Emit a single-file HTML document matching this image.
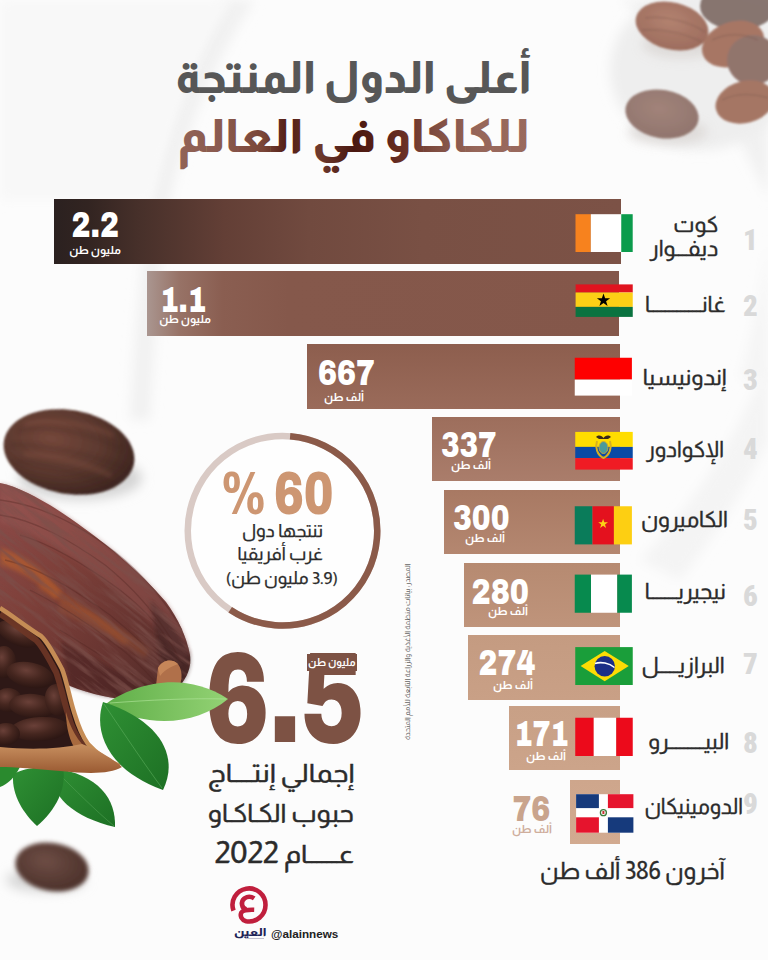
<!DOCTYPE html>
<html lang="ar"><head><meta charset="utf-8">
<style>
*{margin:0;padding:0;box-sizing:border-box}
html,body{width:768px;height:960px;overflow:hidden;background:#f7f7f7}
body{position:relative;font-family:"Almarai","Tajawal","DejaVu Sans",sans-serif}
.a{position:absolute}
.ar{direction:rtl;white-space:nowrap}
.bar{position:absolute;height:64.5px;right:147px}
.num{position:absolute;font-family:"Archivo","Roboto Condensed","Liberation Sans",sans-serif;font-stretch:62%;font-weight:900;color:#fff;font-size:37px;line-height:1;transform-origin:0 0;white-space:nowrap}
.unit{position:absolute;direction:rtl;white-space:nowrap;color:#fff;font-size:11.3px;font-weight:700;line-height:1}
.flag{position:absolute;left:575px;width:58px;height:38px;overflow:hidden}
.flag svg{display:block}
.cn{position:absolute;direction:rtl;white-space:nowrap;color:#2b2b2b;font-size:22px;line-height:1;-webkit-text-stroke:0.35px #2b2b2b}
.rk{position:absolute;font-family:"Roboto Condensed","Liberation Sans",sans-serif;font-weight:900;color:#d9d9d9;font-size:29px;line-height:1;left:743px}
</style></head><body>

<!-- background + photos -->
<svg class="a" style="left:0;top:0" width="768" height="960" viewBox="0 0 768 960">
  <defs>
    <filter id="bl2" x="-20%" y="-20%" width="140%" height="140%"><feGaussianBlur stdDeviation="2"/></filter>
    <filter id="bl1" x="-20%" y="-20%" width="140%" height="140%"><feGaussianBlur stdDeviation="1"/></filter>
    <filter id="bl6" x="-50%" y="-50%" width="200%" height="200%"><feGaussianBlur stdDeviation="6"/></filter>
    <radialGradient id="bean1" cx="35%" cy="38%" r="70%">
      <stop offset="0" stop-color="#74473b"/><stop offset="0.55" stop-color="#5c392f"/><stop offset="1" stop-color="#3c241f"/>
    </radialGradient>
    <radialGradient id="beanF" cx="45%" cy="40%" r="65%">
      <stop offset="0" stop-color="#ad7763"/><stop offset="1" stop-color="#935e4d"/>
    </radialGradient>
    <radialGradient id="beanG" cx="45%" cy="40%" r="65%">
      <stop offset="0" stop-color="#9a786e"/><stop offset="1" stop-color="#866860"/>
    </radialGradient>
    <linearGradient id="pod" x1="0" y1="0" x2="1" y2="1">
      <stop offset="0" stop-color="#8e4c4a"/><stop offset="0.35" stop-color="#7e403a"/><stop offset="0.7" stop-color="#663430"/><stop offset="1" stop-color="#4a2826"/>
    </linearGradient>
    <linearGradient id="leafL" x1="0" y1="0" x2="1" y2="0">
      <stop offset="0" stop-color="#5fae48"/><stop offset="1" stop-color="#8fd070"/>
    </linearGradient>
    <linearGradient id="leafD" x1="0" y1="0" x2="1" y2="1">
      <stop offset="0" stop-color="#2f9034"/><stop offset="1" stop-color="#1d7024"/>
    </linearGradient>
    <radialGradient id="cb" cx="40%" cy="35%" r="70%">
      <stop offset="0" stop-color="#6a4038"/><stop offset="0.5" stop-color="#45261f"/><stop offset="1" stop-color="#2a1512"/>
    </radialGradient>
    <linearGradient id="lip" x1="0" y1="0" x2="0" y2="1">
      <stop offset="0" stop-color="#c89060"/><stop offset="1" stop-color="#9a5a32"/>
    </linearGradient>
    <radialGradient id="bean2" cx="40%" cy="40%" r="65%">
      <stop offset="0" stop-color="#6e4d45"/><stop offset="1" stop-color="#4a3029"/>
    </radialGradient>
    <filter id="wrinkle" x="0" y="0" width="100%" height="100%">
      <feTurbulence type="fractalNoise" baseFrequency="0.02 0.2" numOctaves="4" seed="7" result="n"/>
      <feColorMatrix in="n" type="matrix" values="0 0 0 0 0.2  0 0 0 0 0.08  0 0 0 0 0.07  3 0 0 0 -1.25" />
    </filter>
    <clipPath id="podclip"><path d="M0,483 C25,488 60,510 85,529 C110,547 140,572 166,602 C178,618 187,638 190,655 C192,668 186,680 176,690 C168,697 155,700 140,700 C115,700 90,694 70,686 L0,640 Z"/></clipPath>
  </defs>
  <rect width="768" height="960" fill="#fcfcfc"/>
  <path d="M620,0 C680,40 730,110 768,200 L768,0 Z" fill="#f1f1f1" filter="url(#bl6)"/>
  <path d="M768,360 C745,420 700,500 640,560 L680,580 C720,530 750,480 768,440 Z" fill="#f4f4f4" filter="url(#bl6)"/>
  <path d="M768,240 C760,300 750,340 740,380 L768,380 Z" fill="#f5f5f5" filter="url(#bl6)"/>
  <path d="M255,0 C215,60 185,130 168,210 C160,260 155,330 150,420 L130,420 C135,330 142,250 150,200 C165,130 190,60 225,0 Z" fill="#f1f1f1" filter="url(#bl6)"/>
  <path d="M0,0 L230,0 C190,60 165,130 150,200 L0,200 Z" fill="#f8f8f8" filter="url(#bl6)"/>

  <!-- top right beans (faded) -->
  <ellipse cx="700" cy="70" rx="90" ry="80" fill="#eeeeee" filter="url(#bl6)"/>
  <g opacity="0.9">
    <ellipse cx="682" cy="44" rx="40" ry="14" fill="#dcd8d6" filter="url(#bl6)"/>
    <ellipse cx="668" cy="132" rx="40" ry="12" fill="#dcd8d6" filter="url(#bl6)"/>
    <g filter="url(#bl1)">
    <ellipse cx="738" cy="6" rx="38" ry="24" fill="#7c6862"/>
    <ellipse cx="672" cy="26" rx="37" ry="23.5" transform="rotate(14 672 26)" fill="url(#beanF)"/>
    <ellipse cx="733" cy="44" rx="32" ry="22" transform="rotate(-20 733 44)" fill="#a06a57"/>
    <ellipse cx="753" cy="60" rx="26" ry="25" fill="#88685f"/>
    <ellipse cx="745" cy="102" rx="30" ry="21" transform="rotate(-15 745 102)" fill="#9e6a57"/>
    <ellipse cx="662" cy="114" rx="37" ry="24" transform="rotate(10 662 114)" fill="url(#beanG)"/>
    </g>
    <g fill="none" stroke="#6a4438" stroke-width="1.5" opacity="0.35" filter="url(#bl1)">
      <path d="M645,18 C665,15 690,22 705,32"/><path d="M642,30 C665,28 688,35 702,42"/>
      <path d="M712,40 C728,32 745,34 758,40"/><path d="M722,100 C738,92 755,94 768,98"/>
    </g>
  </g>

  <!-- left bean -->
  <ellipse cx="80" cy="478" rx="62" ry="22" fill="#d4d4d4" filter="url(#bl6)"/>
  <g transform="rotate(10 69 452)">
    <ellipse cx="69" cy="452" rx="66" ry="42" fill="url(#bean1)" filter="url(#bl1)"/>
    <g fill="none" stroke="#3a211b" stroke-width="2.5" opacity="0.3" filter="url(#bl2)">
      <path d="M15,440 C40,430 80,428 120,440"/>
      <path d="M10,455 C45,448 85,450 128,458"/>
      <path d="M18,470 C50,468 90,472 120,478"/>
    </g>
    <g fill="none" stroke="#8a5444" stroke-width="4" opacity="0.35" filter="url(#bl2)">
      <path d="M20,432 C45,422 80,420 110,428"/>
      <path d="M25,462 C55,458 85,460 115,468"/>
    </g>
  </g>

  <!-- pod -->
  <path d="M0,483 C25,488 60,510 85,529 C110,547 140,572 166,602 C178,618 187,638 190,655 C192,668 186,680 176,690 C168,697 155,700 140,700 C115,700 90,694 70,686 L0,640 Z" fill="url(#pod)"/>
  <path d="M0,483 C25,488 60,510 85,529 C110,547 140,572 166,602 C178,618 187,638 190,655 L180,660 C165,635 140,610 110,585 C80,560 40,535 0,522 Z" fill="#9a5a56" opacity="0.45" filter="url(#bl2)"/>
  <path d="M0,548 C22,554 45,570 62,592 L55,599 C40,582 20,570 0,565 Z" fill="#c0642c" opacity="0.6" filter="url(#bl2)"/>
  <path d="M40,580 C70,595 100,615 130,640 L124,645 C95,622 65,603 38,590 Z" fill="#b05a2c" opacity="0.4" filter="url(#bl2)"/>
  <path d="M60,600 C90,610 120,625 150,650 L145,658 C118,640 90,625 58,612 Z" fill="#a85a30" opacity="0.35" filter="url(#bl2)"/>
  <path d="M60,640 C95,660 130,680 165,690 L170,700 C130,702 95,696 70,686 Z" fill="#4a2420" opacity="0.6" filter="url(#bl2)"/>
  <path d="M150,600 C170,620 185,640 190,655 C192,668 186,680 176,690 L160,660 Z" fill="#3e2422" opacity="0.55" filter="url(#bl2)"/>
  <g fill="none" stroke="#4e2420" stroke-width="1.3" opacity="0.35">
    <path d="M0,500 C40,505 80,525 115,552 C140,572 165,600 182,630"/>
    <path d="M0,515 C35,520 70,540 105,565 C130,585 155,612 175,645"/>
    <path d="M5,560 C40,568 75,590 110,615 C135,635 155,655 170,675"/>
    <path d="M30,590 C60,605 95,628 125,652 C140,665 150,675 160,688"/>
    <path d="M20,535 C55,545 90,568 120,590 C145,610 165,630 180,660"/>
    <path d="M60,630 C85,645 110,662 140,680"/>
  </g>
  <g clip-path="url(#podclip)"><rect x="-60" y="420" width="320" height="340" filter="url(#wrinkle)" transform="rotate(38 95 590)" opacity="0.7"/></g>
  <!-- stem -->
  <path d="M158,668 C162,660 172,658 178,664 C184,672 182,686 175,692 C168,697 158,694 156,686 Z" fill="#b0704a"/>
  <path d="M158,668 C162,660 172,658 178,664 C174,666 166,668 160,676 Z" fill="#d09060" opacity="0.7"/>

  <!-- leaves -->
  <path d="M52,768 C48,796 75,818 115,827 C116,800 100,774 52,768 Z" fill="url(#leafD)"/>
  <path d="M55,770 C75,790 95,810 114,826" fill="none" stroke="#5aa85a" stroke-width="0.8" opacity="0.6"/>
  <path d="M63,767 C40,765 15,770 13,776 C12,796 24,814 37,826 C56,810 67,788 63,767 Z" fill="url(#leafD)"/>
  <path d="M0,763 L20,767 C15,777 8,784 0,787 Z" fill="#2a8a2e"/>

  <!-- open pod shell with beans -->
  <path d="M0,608 C10,614 28,628 41,636 C48,642 56,658 62,669 C66,678 70,700 74,712 C77,722 80,733 88,744 C97,754 108,761 120,766 C105,772 85,771 60,768 C35,765 15,763 0,762 Z" fill="#2e1816"/>
  <g>
    <ellipse cx="18" cy="634" rx="22" ry="11" transform="rotate(25 18 634)" fill="url(#cb)"/>
    <ellipse cx="4" cy="662" rx="12" ry="16" fill="url(#cb)"/>
    <ellipse cx="30" cy="675" rx="24" ry="12.5" transform="rotate(12 30 675)" fill="url(#cb)"/>
    <ellipse cx="8" cy="700" rx="14" ry="12" fill="url(#cb)"/>
    <ellipse cx="33" cy="706" rx="24" ry="12" transform="rotate(5 33 706)" fill="url(#cb)"/>
    <ellipse cx="57" cy="700" rx="12" ry="16" transform="rotate(-10 57 700)" fill="url(#cb)"/>
    <ellipse cx="40" cy="729" rx="29" ry="12" transform="rotate(-3 40 729)" fill="url(#cb)"/>
    <ellipse cx="6" cy="734" rx="14" ry="11" fill="url(#cb)"/>
  </g>
  <path d="M0,614 C10,620 24,632 36,640 C43,647 50,661 56,672 C60,682 64,702 68,714 C71,726 76,737 84,747" fill="none" stroke="#6e3626" stroke-width="6" opacity="0.9"/>
  <path d="M66,712 C70,728 78,742 90,752 C100,760 110,764 120,766 C104,766 86,760 76,750 C70,742 66,728 66,712 Z" fill="#a86a3e"/>
  <path d="M0,608 C10,614 28,628 41,636 C48,642 56,658 62,669 C66,678 70,700 74,712 C77,722 80,733 88,744 C97,754 108,761 120,766" fill="none" stroke="#c58c55" stroke-width="4.5"/>
  <path d="M0,747 C30,750 60,749 82,744 C98,750 112,758 122,767 C110,774 90,774 60,771 C35,769 15,767 0,767 Z" fill="url(#lip)"/>

  <!-- bottom bean -->
  <ellipse cx="46" cy="880" rx="40" ry="12" fill="#d6d6d6" filter="url(#bl6)"/>
  <ellipse cx="52" cy="867" rx="37" ry="24" transform="rotate(10 52 867)" fill="url(#bean2)" filter="url(#bl2)"/>
</svg>

<!-- title -->

<svg class="a" style="left:0;top:0" width="768" height="200" viewBox="0 0 768 200">
  <defs><linearGradient id="tg" gradientUnits="userSpaceOnUse" x1="180" y1="0" x2="527" y2="0">
    <stop offset="0" stop-color="#916256"/><stop offset="0.12" stop-color="#8a5a4e"/><stop offset="0.24" stop-color="#7a4538"/><stop offset="0.31" stop-color="#521d14"/><stop offset="0.40" stop-color="#6e3a2e"/><stop offset="0.50" stop-color="#4a1810"/><stop offset="0.58" stop-color="#5a2218"/><stop offset="0.65" stop-color="#6a3025"/><stop offset="0.73" stop-color="#7e4c40"/><stop offset="0.85" stop-color="#966659"/><stop offset="1" stop-color="#9a6a5e"/>
  </linearGradient></defs>
  <text x="531.5" y="93" direction="rtl" font-family="Almarai, 'DejaVu Sans', sans-serif" font-weight="800" font-size="44" fill="#575757" textLength="356" lengthAdjust="spacingAndGlyphs">أعلى الدول المنتجة</text>
  <text x="529.75" y="152" direction="rtl" font-family="Almarai, 'DejaVu Sans', sans-serif" font-weight="800" font-size="46.5" fill="url(#tg)" textLength="352" lengthAdjust="spacingAndGlyphs">للكاكاو في العالم</text>
</svg>
<!-- bars -->
<div class="a" style="left:54px;top:199.2px;width:566.9px;height:65.0px;background:linear-gradient(90deg,#2b2120 0%,#322421 6%,#47302a 15%,#633f36 30%,#714a3f 45%,#795044 65%,#7c5246 100%)"></div>
<div class="a" style="left:146.5px;top:271px;width:472.5px;height:64.6px;background:linear-gradient(90deg,#aa9690 0%,#977266 7%,#8a5e51 16%,#85584b 30%,#84574a 100%)"></div>
<div class="a" style="left:307.4px;top:344.4px;width:312.6px;height:64.2px;background:linear-gradient(180deg,#8d5e4e,#9a6b5a)"></div>
<div class="a" style="left:432.3px;top:417.2px;width:187.7px;height:64.3px;background:linear-gradient(180deg,#9d6e5c,#aa7d6b)"></div>
<div class="a" style="left:444.3px;top:490px;width:175.7px;height:64.4px;background:linear-gradient(180deg,#a87963,#b48770)"></div>
<div class="a" style="left:464.4px;top:562.75px;width:155.6px;height:64.5px;background:linear-gradient(180deg,#b68a71,#bf947b)"></div>
<div class="a" style="left:468.2px;top:635.4px;width:151.8px;height:64.2px;background:linear-gradient(180deg,#c49b81,#c9a086)"></div>
<div class="a" style="left:509.4px;top:705.8px;width:110.6px;height:64.6px;background:linear-gradient(180deg,#c8a086,#cca48a)"></div>
<div class="a" style="left:570px;top:779.5px;width:49.75px;height:64.9px;background:linear-gradient(180deg,#cea68c,#d2aa90)"></div>

<!-- numbers -->
<svg class="a" style="left:0;top:0" width="768" height="960" viewBox="0 0 768 960">
<text x="71.59" y="236.80" font-family="Archivo, 'Liberation Sans', sans-serif" font-stretch="62%" font-weight="900" font-size="37.0" fill="#ffffff" textLength="47.56" lengthAdjust="spacingAndGlyphs">2.2</text>
<text x="121.00" y="253.50" direction="rtl" unicode-bidi="embed" font-family="Almarai, Tajawal, 'DejaVu Sans', sans-serif" font-weight="700" font-size="11.3" fill="#ffffff" textLength="51.84" lengthAdjust="spacingAndGlyphs">مليون طن</text>
<text x="160.19" y="312.00" font-family="Archivo, 'Liberation Sans', sans-serif" font-stretch="62%" font-weight="900" font-size="37.0" fill="#ffffff" textLength="46.08" lengthAdjust="spacingAndGlyphs">1.1</text>
<text x="211.00" y="323.00" direction="rtl" unicode-bidi="embed" font-family="Almarai, Tajawal, 'DejaVu Sans', sans-serif" font-weight="700" font-size="11.3" fill="#ffffff" textLength="51.84" lengthAdjust="spacingAndGlyphs">مليون طن</text>
<text x="318.09" y="385.30" font-family="Archivo, 'Liberation Sans', sans-serif" font-stretch="62%" font-weight="900" font-size="37.0" fill="#ffffff" textLength="56.87" lengthAdjust="spacingAndGlyphs">667</text>
<text x="364.00" y="400.50" direction="rtl" unicode-bidi="embed" font-family="Almarai, Tajawal, 'DejaVu Sans', sans-serif" font-weight="700" font-size="11.3" fill="#ffffff" textLength="40.06" lengthAdjust="spacingAndGlyphs">ألف طن</text>
<text x="440.89" y="456.59" font-family="Archivo, 'Liberation Sans', sans-serif" font-stretch="62%" font-weight="900" font-size="37.0" fill="#ffffff" textLength="55.83" lengthAdjust="spacingAndGlyphs">337</text>
<text x="491.00" y="469.00" direction="rtl" unicode-bidi="embed" font-family="Almarai, Tajawal, 'DejaVu Sans', sans-serif" font-weight="700" font-size="11.3" fill="#ffffff" textLength="40.06" lengthAdjust="spacingAndGlyphs">ألف طن</text>
<text x="453.00" y="529.59" font-family="Archivo, 'Liberation Sans', sans-serif" font-stretch="62%" font-weight="900" font-size="37.0" fill="#ffffff" textLength="56.57" lengthAdjust="spacingAndGlyphs">300</text>
<text x="505.00" y="542.00" direction="rtl" unicode-bidi="embed" font-family="Almarai, Tajawal, 'DejaVu Sans', sans-serif" font-weight="700" font-size="11.3" fill="#ffffff" textLength="40.06" lengthAdjust="spacingAndGlyphs">ألف طن</text>
<text x="471.50" y="604.09" font-family="Archivo, 'Liberation Sans', sans-serif" font-stretch="62%" font-weight="900" font-size="37.0" fill="#ffffff" textLength="57.53" lengthAdjust="spacingAndGlyphs">280</text>
<text x="528.00" y="615.00" direction="rtl" unicode-bidi="embed" font-family="Almarai, Tajawal, 'DejaVu Sans', sans-serif" font-weight="700" font-size="11.3" fill="#ffffff" textLength="40.06" lengthAdjust="spacingAndGlyphs">ألف طن</text>
<text x="478.59" y="675.19" font-family="Archivo, 'Liberation Sans', sans-serif" font-stretch="62%" font-weight="900" font-size="37.0" fill="#ffffff" textLength="56.79" lengthAdjust="spacingAndGlyphs">274</text>
<text x="533.00" y="689.00" direction="rtl" unicode-bidi="embed" font-family="Almarai, Tajawal, 'DejaVu Sans', sans-serif" font-weight="700" font-size="11.3" fill="#ffffff" textLength="40.06" lengthAdjust="spacingAndGlyphs">ألف طن</text>
<text x="514.50" y="746.09" font-family="Archivo, 'Liberation Sans', sans-serif" font-stretch="62%" font-weight="900" font-size="37.0" fill="#ffffff" textLength="54.13" lengthAdjust="spacingAndGlyphs">171</text>
<text x="566.00" y="760.00" direction="rtl" unicode-bidi="embed" font-family="Almarai, Tajawal, 'DejaVu Sans', sans-serif" font-weight="700" font-size="11.3" fill="#ffffff" textLength="40.06" lengthAdjust="spacingAndGlyphs">ألف طن</text>
<text x="512.39" y="821.39" font-family="Archivo, 'Liberation Sans', sans-serif" font-stretch="62%" font-weight="900" font-size="37.0" fill="#c9a48d" textLength="37.86" lengthAdjust="spacingAndGlyphs">76</text>
<text x="552.00" y="833.00" direction="rtl" unicode-bidi="embed" font-family="Almarai, Tajawal, 'DejaVu Sans', sans-serif" font-weight="700" font-size="11.3" fill="#cfae9c" textLength="40.06" lengthAdjust="spacingAndGlyphs">ألف طن</text>
<text x="743.00" y="249.69" font-family="'Roboto Condensed', 'Liberation Sans', sans-serif" font-weight="900" font-size="29.0" fill="#d9d9d9" textLength="14.83" lengthAdjust="spacingAndGlyphs">1</text>
<text x="743.00" y="316.00" font-family="'Roboto Condensed', 'Liberation Sans', sans-serif" font-weight="900" font-size="29.0" fill="#d9d9d9" textLength="14.83" lengthAdjust="spacingAndGlyphs">2</text>
<text x="743.00" y="389.89" font-family="'Roboto Condensed', 'Liberation Sans', sans-serif" font-weight="900" font-size="29.0" fill="#d9d9d9" textLength="14.83" lengthAdjust="spacingAndGlyphs">3</text>
<text x="743.00" y="458.69" font-family="'Roboto Condensed', 'Liberation Sans', sans-serif" font-weight="900" font-size="29.0" fill="#d9d9d9" textLength="14.83" lengthAdjust="spacingAndGlyphs">4</text>
<text x="743.00" y="529.50" font-family="'Roboto Condensed', 'Liberation Sans', sans-serif" font-weight="900" font-size="29.0" fill="#d9d9d9" textLength="14.83" lengthAdjust="spacingAndGlyphs">5</text>
<text x="743.00" y="605.59" font-family="'Roboto Condensed', 'Liberation Sans', sans-serif" font-weight="900" font-size="29.0" fill="#d9d9d9" textLength="14.83" lengthAdjust="spacingAndGlyphs">6</text>
<text x="743.00" y="674.00" font-family="'Roboto Condensed', 'Liberation Sans', sans-serif" font-weight="900" font-size="29.0" fill="#d9d9d9" textLength="14.83" lengthAdjust="spacingAndGlyphs">7</text>
<text x="743.00" y="753.19" font-family="'Roboto Condensed', 'Liberation Sans', sans-serif" font-weight="900" font-size="29.0" fill="#d9d9d9" textLength="14.83" lengthAdjust="spacingAndGlyphs">8</text>
<text x="743.00" y="813.69" font-family="'Roboto Condensed', 'Liberation Sans', sans-serif" font-weight="900" font-size="29.0" fill="#d9d9d9" textLength="14.83" lengthAdjust="spacingAndGlyphs">9</text>
</svg>

<!-- flags -->
<svg class="a" style="left:0;top:0" width="768" height="960" viewBox="0 0 768 960">
 <rect x="575.5" y="214.2" width="15.3" height="37.8" fill="#f7821e"/><rect x="590.8" y="214.2" width="30.45" height="37.8" fill="#fff"/><rect x="621.25" y="214.2" width="11.45" height="37.8" fill="#0b9b4c"/>
 <rect x="575.6" y="284.4" width="57.15" height="8.1" fill="#e0141f"/><rect x="575.6" y="292.5" width="57.15" height="14.4" fill="#fccf16"/><rect x="575.6" y="306.9" width="57.15" height="10" fill="#0a7340"/>
 <polygon points="603.5,293.4 605.1,298.2 610.1,298.2 606.1,301.2 607.6,306 603.5,303 599.4,306 600.9,301.2 596.9,298.2 601.9,298.2" fill="#000"/>
 <rect x="574.75" y="357.75" width="57.15" height="21.85" fill="#fe0000"/><rect x="574.75" y="379.6" width="57.15" height="16" fill="#fff"/>
 <rect x="575.25" y="431.9" width="57.5" height="15" fill="#ffdd00"/><rect x="575.25" y="446.9" width="57.5" height="11.2" fill="#0a4aa5"/><rect x="575.25" y="458.1" width="57.5" height="11.5" fill="#f01b24"/>
 <path d="M596,437 C599,434 602,436 603.5,438 C605,436 608,434 611,437 L608,439 L599,439 Z" fill="#3a2a1a"/>
 <path d="M597,441 C595,447 597,455 603.5,458 C610,455 612,447 610,441" fill="none" stroke="#d8b020" stroke-width="2"/>
 <ellipse cx="603.5" cy="447.5" rx="4.5" ry="6" fill="#4a9a9a" stroke="#c8a838" stroke-width="1"/>
 <rect x="574.75" y="506.25" width="17.75" height="38.15" fill="#0a7c5a"/><rect x="592.5" y="506.25" width="21.4" height="38.15" fill="#e4111e"/><rect x="613.9" y="506.25" width="18" height="38.15" fill="#fdcf12"/>
 <polygon points="603.1,518.8 604.3,522.3 608,522.3 605,524.5 606.1,528 603.1,525.8 600.1,528 601.2,524.5 598.2,522.3 601.9,522.3" fill="#fcd116"/>
 <rect x="574.75" y="574.6" width="16.25" height="38.15" fill="#078a4e"/><rect x="591" y="574.6" width="26.25" height="38.15" fill="#fff"/><rect x="617.25" y="574.6" width="14.65" height="38.15" fill="#078a4e"/>
 <rect x="575.25" y="647.1" width="57.5" height="37.9" fill="#1a9e3a"/><polygon points="580.6,666 604.7,651 628.75,666 604.7,681.25" fill="#fcdc04"/><circle cx="604.75" cy="666.25" r="10.2" fill="#1c2f86"/>
 <path d="M595,663.5 C601,661.5 609,663 614.5,667.5" fill="none" stroke="#fff" stroke-width="1.6"/>
 <rect x="575.25" y="717.75" width="18.5" height="38.25" fill="#ec0a1b"/><rect x="593.75" y="717.75" width="22.5" height="38.25" fill="#fff"/><rect x="616.25" y="717.75" width="16.5" height="38.25" fill="#ec0a1b"/>
 <rect x="576.1" y="794.2" width="57.3" height="38.5" fill="#fff"/>
 <rect x="576.1" y="794.2" width="22.8" height="13.9" fill="#163a7c"/><rect x="607.9" y="794.2" width="25.5" height="13.9" fill="#e6142d"/>
 <rect x="576.1" y="817.3" width="22.8" height="15.4" fill="#e6142d"/><rect x="607.9" y="817.3" width="25.5" height="15.4" fill="#163a7c"/>
 <circle cx="603.4" cy="812.7" r="3" fill="none" stroke="#3a7a3a" stroke-width="1.3"/><rect x="602.4" y="811" width="2" height="3" fill="#c83030"/>
</svg>

<!-- country names -->


<!-- ranks -->

<!-- 60% circle -->
<svg class="a" style="left:180px;top:428px" width="206" height="206" viewBox="180 428 206 206">
  <circle cx="282.5" cy="530.8" r="94.75" fill="#fefefe" stroke="#d9cac5" stroke-width="6.5"/>
  <circle cx="282.5" cy="530.8" r="94.75" fill="none" stroke="#8b5a49" stroke-width="6.5" stroke-dasharray="345 1000" transform="rotate(-85.4 282.5 530.8)"/>
</svg>
<svg class="a" style="left:0;top:0" width="768" height="960" viewBox="0 0 768 960"><text x="221.3" y="514" font-family="Archivo, 'Liberation Sans', sans-serif" font-stretch="62%" font-weight="900" font-size="60.5" fill="#cd9672" textLength="112.1" lengthAdjust="spacingAndGlyphs">% 60</text></svg>

<!-- 6.5 -->
<svg class="a" style="left:0;top:0" width="768" height="960" viewBox="0 0 768 960"><text x="205.2" y="742" font-family="Archivo, 'Liberation Sans', sans-serif" font-stretch="62%" font-weight="900" font-size="129.4" fill="#7d5244" textLength="159.5" lengthAdjust="spacingAndGlyphs">6.5</text></svg>
<svg class="a" style="left:0;top:0" width="768" height="960" viewBox="0 0 768 960">
  <defs><linearGradient id="leafL2" x1="0" y1="0" x2="1" y2="0"><stop offset="0" stop-color="#5fae48"/><stop offset="1" stop-color="#93d274"/></linearGradient></defs>
  <path d="M104,705 C135,683 184,670 228,699 C198,724 150,730 104,705 Z" fill="url(#leafL2)"/>
  <path d="M110,703 C150,700 190,698 226,699" fill="none" stroke="#b0e49a" stroke-width="0.8" opacity="0.8"/>
  <path d="M103,702 C92,735 112,772 163,790 C178,760 165,722 103,702 Z" fill="url(#leafD)"/>
  <path d="M104,704 C125,735 145,765 162,788" fill="none" stroke="#60b060" stroke-width="0.8" opacity="0.7"/>
</svg>
<div class="a" style="left:307.4px;top:654.4px;width:49.3px;height:16.6px;background:#7d5244"></div>
<svg class="a" style="left:0;top:0" width="768" height="960" viewBox="0 0 768 960"><text x="355.6" y="666.4" direction="rtl" unicode-bidi="embed" font-family="Almarai, Tajawal, 'DejaVu Sans', sans-serif" font-weight="700" font-size="11" fill="#fff" textLength="47.5" lengthAdjust="spacingAndGlyphs">مليون طن</text></svg>

<!-- converted text -->
<svg class="a" style="left:0;top:0" width="768" height="960" viewBox="0 0 768 960">
<text x="718.31" y="232.00" direction="rtl" unicode-bidi="embed" font-family="Almarai, Tajawal, 'DejaVu Sans', sans-serif" font-size="22.0" fill="#2b2b2b" stroke="#2b2b2b" stroke-width="0.35" textLength="44.94" lengthAdjust="spacingAndGlyphs">كوت</text>
<text x="718.31" y="256.00" direction="rtl" unicode-bidi="embed" font-family="Almarai, Tajawal, 'DejaVu Sans', sans-serif" font-size="22.0" fill="#2b2b2b" stroke="#2b2b2b" stroke-width="0.35" textLength="68.50" lengthAdjust="spacingAndGlyphs">ديفـــوار</text>
<text x="725.61" y="312.00" direction="rtl" unicode-bidi="embed" font-family="Almarai, Tajawal, 'DejaVu Sans', sans-serif" font-size="22.0" fill="#2b2b2b" stroke="#2b2b2b" stroke-width="0.35" textLength="80.66" lengthAdjust="spacingAndGlyphs">غانـــــــــــــا</text>
<text x="726.20" y="384.89" direction="rtl" unicode-bidi="embed" font-family="Almarai, Tajawal, 'DejaVu Sans', sans-serif" font-size="22.0" fill="#2b2b2b" stroke="#2b2b2b" stroke-width="0.35" textLength="83.38" lengthAdjust="spacingAndGlyphs">إندونيسيا</text>
<text x="724.00" y="457.00" direction="rtl" unicode-bidi="embed" font-family="Almarai, Tajawal, 'DejaVu Sans', sans-serif" font-size="22.0" fill="#2b2b2b" stroke="#2b2b2b" stroke-width="0.35" textLength="77.86" lengthAdjust="spacingAndGlyphs">الإكوادور</text>
<text x="727.81" y="527.30" direction="rtl" unicode-bidi="embed" font-family="Almarai, Tajawal, 'DejaVu Sans', sans-serif" font-size="22.0" fill="#2b2b2b" stroke="#2b2b2b" stroke-width="0.35" textLength="86.91" lengthAdjust="spacingAndGlyphs">الكاميرون</text>
<text x="725.70" y="599.00" direction="rtl" unicode-bidi="embed" font-family="Almarai, Tajawal, 'DejaVu Sans', sans-serif" font-size="22.0" fill="#2b2b2b" stroke="#2b2b2b" stroke-width="0.35" textLength="80.95" lengthAdjust="spacingAndGlyphs">نيجيريـــــــا</text>
<text x="724.61" y="672.59" direction="rtl" unicode-bidi="embed" font-family="Almarai, Tajawal, 'DejaVu Sans', sans-serif" font-size="22.0" fill="#2b2b2b" stroke="#2b2b2b" stroke-width="0.35" textLength="83.22" lengthAdjust="spacingAndGlyphs">البرازيـــــل</text>
<text x="729.20" y="749.19" direction="rtl" unicode-bidi="embed" font-family="Almarai, Tajawal, 'DejaVu Sans', sans-serif" font-size="22.0" fill="#2b2b2b" stroke="#2b2b2b" stroke-width="0.35" textLength="81.03" lengthAdjust="spacingAndGlyphs">البيـــــــــرو</text>
<text x="742.91" y="814.00" direction="rtl" unicode-bidi="embed" font-family="Almarai, Tajawal, 'DejaVu Sans', sans-serif" font-size="22.0" fill="#2b2b2b" stroke="#2b2b2b" stroke-width="0.35" textLength="98.53" lengthAdjust="spacingAndGlyphs">الدومينيكان</text>
<text x="724.70" y="879.00" direction="rtl" unicode-bidi="embed" font-family="Almarai, Tajawal, 'DejaVu Sans', sans-serif" font-size="23.7" fill="#2b2b2b" stroke="#2b2b2b" stroke-width="0.35" textLength="184.61" lengthAdjust="spacingAndGlyphs">آخرون 386 ألف طن</text>
<text x="323.00" y="537.00" direction="rtl" unicode-bidi="embed" font-family="Almarai, Tajawal, 'DejaVu Sans', sans-serif" font-size="18.0" fill="#2b2b2b" stroke="#2b2b2b" stroke-width="0.25" textLength="81.03" lengthAdjust="spacingAndGlyphs">تنتجها دول</text>
<text x="323.00" y="559.59" direction="rtl" unicode-bidi="embed" font-family="Almarai, Tajawal, 'DejaVu Sans', sans-serif" font-size="18.0" fill="#2b2b2b" stroke="#2b2b2b" stroke-width="0.25" textLength="85.42" lengthAdjust="spacingAndGlyphs">غرب أفريقيا</text>
<text x="338.00" y="584.00" direction="rtl" unicode-bidi="embed" font-family="Almarai, Tajawal, 'DejaVu Sans', sans-serif" font-size="17.5" fill="#2b2b2b" stroke="#2b2b2b" stroke-width="0.25" textLength="112.28" lengthAdjust="spacingAndGlyphs">(3.9 مليون طن)</text>
<text x="354.00" y="782.00" direction="rtl" unicode-bidi="embed" font-family="Almarai, Tajawal, 'DejaVu Sans', sans-serif" font-size="25.5" fill="#2b2b2b" stroke="#2b2b2b" stroke-width="0.4" textLength="146.35" lengthAdjust="spacingAndGlyphs">إجمالي إنتــــاج</text>
<text x="354.00" y="821.50" direction="rtl" unicode-bidi="embed" font-family="Almarai, Tajawal, 'DejaVu Sans', sans-serif" font-size="25.5" fill="#2b2b2b" stroke="#2b2b2b" stroke-width="0.4" textLength="146.17" lengthAdjust="spacingAndGlyphs">حبوب الكـاكـاو</text>
<text x="354.00" y="863.00" direction="rtl" unicode-bidi="embed" font-family="Almarai, Tajawal, 'DejaVu Sans', sans-serif" font-size="25.5" fill="#2b2b2b" stroke="#2b2b2b" stroke-width="0.4" textLength="70.06" lengthAdjust="spacingAndGlyphs">عــــــام</text>
<text x="214.73" y="863.00" font-family="Almarai, Tajawal, 'DejaVu Sans', sans-serif" font-size="29.5" fill="#2b2b2b" stroke="#2b2b2b" stroke-width="0.4" textLength="63.9" lengthAdjust="spacingAndGlyphs">2022</text>
</svg>

<!-- source vertical -->
<svg class="a" style="left:0;top:0" width="768" height="960" viewBox="0 0 768 960"><text x="495" y="653" direction="rtl" unicode-bidi="embed" transform="rotate(-90 407.5 651)" font-family="Almarai, Tajawal, 'DejaVu Sans', sans-serif" font-size="7.5" fill="#666" textLength="176.6" lengthAdjust="spacingAndGlyphs">المصدر: بيانات منظمة الأغذية والزراعة التابعة للأمم المتحدة</text></svg>

<!-- logo -->
<svg class="a" style="left:0;top:0" width="768" height="960" viewBox="0 0 768 960">
  <g fill="none" stroke="#c01f3d" stroke-width="4.6">
    <path d="M233.5,910.6 A16.5,16.5 0 1 1 246.1,921.2 C241.5,920 239.8,916 241.3,912.6 C242.8,910 247,909.6 254.2,909.8"/>
    <path d="M246.5,909.6 C241.5,908.5 240.3,901.5 244.5,898.3 C247.5,896.3 251.5,896.6 254.2,898.4"/>
  </g>
</svg>
<svg class="a" style="left:0;top:0" width="768" height="960" viewBox="0 0 768 960"><text x="266.4" y="935.5" direction="rtl" unicode-bidi="embed" font-family="Almarai, Tajawal, 'DejaVu Sans', sans-serif" font-weight="800" font-size="11" fill="#1e2558" textLength="32.4" lengthAdjust="spacingAndGlyphs">العين</text></svg>
<div class="a" style="left:245px;top:937.5px;width:19px;height:1.5px;background:#9a9ab0;opacity:0.6"></div>
<div class="a" style="left:271px;top:926.5px;font-family:'Liberation Sans',Arial,sans-serif;font-weight:700;font-size:11.7px;color:#222;line-height:14px">@alainnews</div>

</body></html>
